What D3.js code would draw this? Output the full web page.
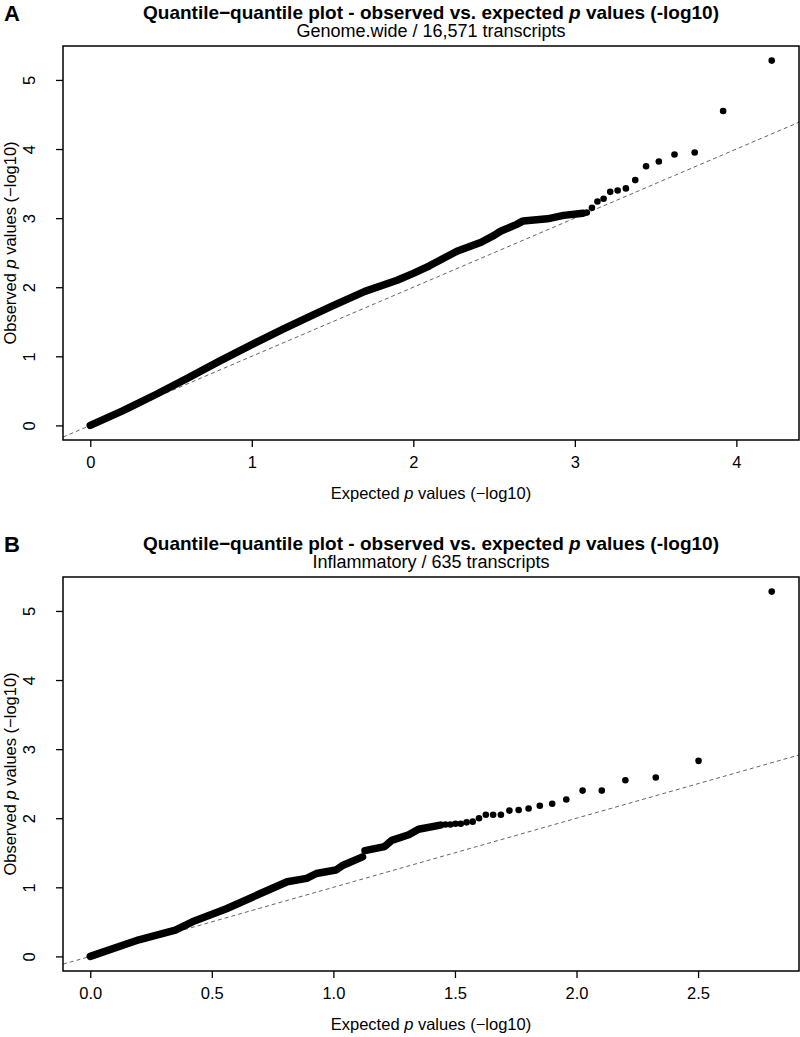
<!DOCTYPE html>
<html>
<head>
<meta charset="utf-8">
<script src="https://cdnjs.cloudflare.com/ajax/libs/d3/7.8.5/d3.min.js"></script>
<style>
body { margin: 0; background: #fff; }
svg text { font-family: "Liberation Sans", Arial, Helvetica, sans-serif; fill: #000; }
</style>
</head>
<body>
<div id="chart"></div>
<script>
/* ---------------------------------------------------- +/

## QQ plots ##

Observed vs expected -log10 p values, two panels

/+ ---------------------------------------------------- */

var mainTitle = "Quantile\u2212quantile plot - observed vs. expected ";
var yTicks = [0, 1, 2, 3, 4, 5];

// Panel A - genome wide
var aLetter = "A";
var aSubtitle = "Genome.wide / 16,571 transcripts";
var aXTicks = [0, 1, 2, 3, 4];
// dense part of the cloud (read along the centre of the thick band)
var aBodyExpected = [0.00, 0.20, 0.40, 0.60, 0.80, 1.00, 1.20, 1.40, 1.50, 1.70, 1.90, 2.00, 2.10, 2.27, 2.42, 2.50, 2.54, 2.64, 2.68, 2.83, 2.93, 3.05];
var aBodyObserved = [0.00, 0.21, 0.44, 0.68, 0.93, 1.17, 1.40, 1.62, 1.73, 1.94, 2.10, 2.20, 2.31, 2.52, 2.65, 2.75, 2.81, 2.91, 2.96, 2.99, 3.04, 3.07];
// single points at the top end
var aTailExpected = [4.219, 3.918, 3.742, 3.617, 3.520, 3.441, 3.374, 3.316, 3.265, 3.219, 3.178, 3.140, 3.106, 3.074];
var aTailObserved = [5.28, 4.55, 3.95, 3.92, 3.82, 3.75, 3.55, 3.43, 3.40, 3.38, 3.28, 3.24, 3.15, 3.08];

// Panel B - inflammatory
var bLetter = "B";
var bSubtitle = "Inflammatory / 635 transcripts";
var bXTicks = [0.0, 0.5, 1.0, 1.5, 2.0, 2.5];
var bBodyLowExpected = [0.00, 0.20, 0.35, 0.42, 0.56, 0.70, 0.81, 0.89, 0.93, 1.01, 1.04, 1.12];
var bBodyLowObserved = [0.00, 0.24, 0.38, 0.50, 0.69, 0.91, 1.08, 1.13, 1.20, 1.25, 1.32, 1.44];
var bBodyHighExpected = [1.13, 1.21, 1.24, 1.31, 1.35, 1.44];
var bBodyHighObserved = [1.53, 1.59, 1.68, 1.76, 1.84, 1.90];
var bTailExpected = [2.803, 2.502, 2.326, 2.201, 2.104, 2.025, 1.958, 1.900, 1.849, 1.803, 1.762, 1.724, 1.689, 1.657, 1.627, 1.599, 1.573, 1.548, 1.524, 1.502, 1.481, 1.461];
var bTailObserved = [5.28, 2.83, 2.59, 2.55, 2.40, 2.40, 2.27, 2.21, 2.18, 2.14, 2.12, 2.11, 2.05, 2.05, 2.05, 2.00, 1.95, 1.94, 1.92, 1.92, 1.91, 1.91];

/**
 * Setup canvas
 */
var width = 800;
var height = 1037;
var svg = d3.select("#chart").append("svg")
    .attr("width", width)
    .attr("height", height);

var box = { left: 63, right: 799, top: 46, bottom: 440 };
var panelGap = 531;

function zip(xs, ys) {
    return xs.map(function(x, i) { return [x, ys[i]]; });
}

// R style 4% padding on the data range
function padded(values) {
    var ext = d3.extent(values);
    var pad = (ext[1] - ext[0]) * 0.04;
    return [ext[0] - pad, ext[1] + pad];
}

function drawPanel(offsetY, panel, id) {
    var g = svg.append("g").attr("transform", "translate(0," + offsetY + ")");

    var allX = panel.tailX.concat([0]);
    var allY = panel.tailY.concat([0]);
    var x = d3.scaleLinear().domain(padded(allX)).range([box.left, box.right]);
    var y = d3.scaleLinear().domain(padded(allY)).range([box.bottom, box.top]);

    var cx = (box.left + box.right) / 2;

    // Panel letter
    g.append("text")
        .attr("x", 4)
        .attr("y", 21)
        .style("font-size", "22px")
        .style("font-weight", "bold")
        .text(panel.letter);

    // Title
    var title = g.append("text")
        .attr("x", cx)
        .attr("y", 19)
        .attr("text-anchor", "middle")
        .style("font-size", "19px")
        .style("font-weight", "bold");
    title.append("tspan").text(mainTitle);
    title.append("tspan").style("font-style", "italic").text("p");
    title.append("tspan").text(" values (-log10)");

    g.append("text")
        .attr("x", cx)
        .attr("y", 37)
        .attr("text-anchor", "middle")
        .style("font-size", "18px")
        .text(panel.subtitle);

    // Clip for the reference line
    svg.append("defs").append("clipPath")
        .attr("id", "clip" + id)
        .append("rect")
        .attr("x", box.left)
        .attr("y", box.top)
        .attr("width", box.right - box.left)
        .attr("height", box.bottom - box.top);

    // y = x reference line
    var d = x.domain();
    g.append("line")
        .attr("clip-path", "url(#clip" + id + ")")
        .attr("x1", x(d[0]))
        .attr("y1", y(d[0]))
        .attr("x2", x(d[1]))
        .attr("y2", y(d[1]))
        .style("stroke", "#666")
        .style("stroke-width", 1)
        .style("stroke-dasharray", "4,3");

    // Dense part drawn as a thick band
    var line = d3.line()
        .x(function(p) { return x(p[0]); })
        .y(function(p) { return y(p[1]); });

    panel.bodies.forEach(function(body) {
        g.append("path")
            .attr("d", line(body))
            .style("fill", "none")
            .style("stroke", "#000")
            .style("stroke-width", 7.5)
            .style("stroke-linecap", "round")
            .style("stroke-linejoin", "round");
    });

    // Separate points in the tail
    g.selectAll(".pt")
        .data(zip(panel.tailX, panel.tailY))
        .enter().append("circle")
        .attr("class", "pt")
        .attr("cx", function(p) { return x(p[0]); })
        .attr("cy", function(p) { return y(p[1]); })
        .attr("r", 3.3)
        .style("fill", "#000");

    // Box
    g.append("rect")
        .attr("x", box.left)
        .attr("y", box.top)
        .attr("width", box.right - box.left)
        .attr("height", box.bottom - box.top)
        .style("fill", "none")
        .style("stroke", "#000")
        .style("stroke-width", 1.5);

    // Axes
    var xAxis = d3.axisBottom(x)
        .tickValues(panel.xTicks)
        .tickSize(7)
        .tickPadding(9)
        .tickFormat(panel.xFormat);
    var gx = g.append("g")
        .attr("transform", "translate(0," + box.bottom + ")")
        .call(xAxis);
    gx.select(".domain").remove();
    gx.selectAll("line").style("stroke", "#000").style("stroke-width", 1.3);
    gx.selectAll("text")
        .style("font-size", "16.5px")
        .style("font-family", "'Liberation Sans', Arial, sans-serif");

    var yAxis = d3.axisLeft(y)
        .tickValues(yTicks)
        .tickSize(7)
        .tickFormat(d3.format("d"));
    var gy = g.append("g")
        .attr("transform", "translate(" + box.left + ",0)")
        .call(yAxis);
    gy.select(".domain").remove();
    gy.selectAll("line").style("stroke", "#000").style("stroke-width", 1.3);
    gy.selectAll("text")
        .attr("x", null)
        .attr("dy", null)
        .attr("text-anchor", "middle")
        .attr("transform", "translate(-28,0) rotate(-90)")
        .style("font-size", "16.5px")
        .style("font-family", "'Liberation Sans', Arial, sans-serif");

    // Axis titles
    var xt = g.append("text")
        .attr("x", cx)
        .attr("y", 499)
        .attr("text-anchor", "middle")
        .style("font-size", "16.5px");
    xt.append("tspan").text("Expected ");
    xt.append("tspan").style("font-style", "italic").text("p");
    xt.append("tspan").text(" values (\u2212log10)");

    var cy = (box.top + box.bottom) / 2;
    var yt = g.append("text")
        .attr("transform", "translate(16," + cy + ") rotate(-90)")
        .attr("text-anchor", "middle")
        .style("font-size", "16.5px");
    yt.append("tspan").text("Observed ");
    yt.append("tspan").style("font-style", "italic").text("p");
    yt.append("tspan").text(" values (\u2212log10)");
}

drawPanel(0, {
    letter: aLetter,
    subtitle: aSubtitle,
    xTicks: aXTicks,
    xFormat: d3.format("d"),
    bodies: [zip(aBodyExpected, aBodyObserved)],
    tailX: aTailExpected,
    tailY: aTailObserved
}, "A");

drawPanel(panelGap, {
    letter: bLetter,
    subtitle: bSubtitle,
    xTicks: bXTicks,
    xFormat: d3.format(".1f"),
    bodies: [zip(bBodyLowExpected, bBodyLowObserved), zip(bBodyHighExpected, bBodyHighObserved)],
    tailX: bTailExpected,
    tailY: bTailObserved
}, "B");
</script>
</body>
</html>
